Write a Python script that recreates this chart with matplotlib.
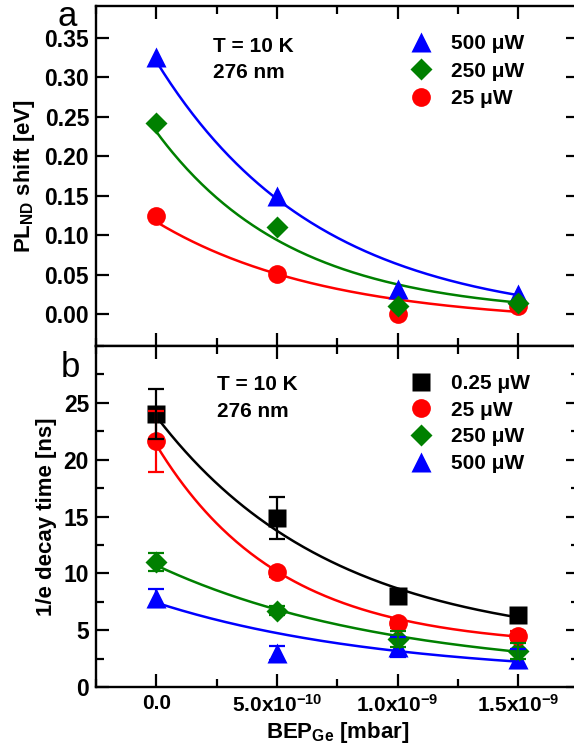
import numpy as np
import matplotlib
matplotlib.use('Agg')
import matplotlib.pyplot as plt
from matplotlib.ticker import MultipleLocator, FixedLocator, FixedFormatter
#
#   Two stacked panels: PL_ND shift (a) and 1/e decay time (b) versus Ge beam pressure.
#   Solid lines are exponential decay fits y0 + A*exp(-x/t).
#
plt.rcParams['font.family'] = ['Liberation Sans', 'DejaVu Sans']
plt.rcParams['font.weight'] = 'bold'
plt.rcParams['mathtext.fontset'] = 'custom'
plt.rcParams['mathtext.rm'] = 'Liberation Sans:bold'
plt.rcParams['mathtext.bf'] = 'Liberation Sans:bold'
plt.rcParams['mathtext.default'] = 'bf'

bep = [0.0, 5e-10, 1e-9, 1.5e-9]                      # BEP_Ge [mbar]
xtick_vals = [0.0, 5e-10, 1e-9, 1.5e-9]
xtick_labels = ['0.0', r'5.0x10$^{-10}$', r'1.0x10$^{-9}$', r'1.5x10$^{-9}$']
ytick_b = [0, 5, 10, 15, 20, 25]

# panel a: PL_ND shift [eV]
shift_500 = [0.325, 0.150, 0.032, 0.026]
shift_250 = [0.242, 0.110, 0.010, 0.015]
shift_25 = [0.124, 0.051, 0.000, 0.011]

# panel b: 1/e decay time [ns] with error bars
tau_025 = [24.0, 14.9, 8.0, 6.3]
err_025 = [2.2, 1.85, 0.3, 0.3]
tau_25 = [21.6, 10.1, 5.6, 4.5]
err_25 = [2.65, 0.4, 0.4, 0.4]
tau_250 = [11.0, 6.7, 4.2, 3.2]
err_250 = [0.8, 0.4, 0.7, 0.7]
tau_500 = [7.8, 3.0, 3.5, 2.5]
err_500 = [0.8, 0.6, 0.9, 0.8]

# fit parameters (y0, A, t[mbar])
fit_a_500 = (-0.011, 0.331, 0.67e-9)
fit_a_250 = (-0.001, 0.232, 0.56e-9)
fit_a_25 = (-0.012, 0.129, 0.70e-9)
fit_b_025 = (3.52, 20.28, 0.73e-9)
fit_b_25 = (3.49, 17.81, 0.51e-9)
fit_b_250 = (1.04, 9.66, 0.97e-9)
fit_b_500 = (0.88, 6.54, 0.95e-9)

blue, green, red, black = '#0000ff', '#008000', '#ff0000', '#000000'

def fitline(p):
    xs = np.linspace(bep[0], bep[-1], 200)
    return xs, p[0] + p[1]*np.exp(-xs/p[2])

fig = plt.figure(figsize=(5.74, 7.5), dpi=100)
W, H = 574.0, 750.0
left, right = 96/W, 578.5/W
axa = fig.add_axes([left, (H-346)/H, right-left, 340/H])
axb = fig.add_axes([left, (H-687)/H, right-left, 341/H])

for ax in (axa, axb):
    ax.set_xlim(-2.5e-10, 1.75e-9)
    ax.xaxis.set_major_locator(FixedLocator(xtick_vals))
    ax.xaxis.set_minor_locator(MultipleLocator(2.5e-10))
    ax.tick_params(which='both', direction='in', top=True, right=True, width=1.6)
    ax.tick_params(which='major', length=9.5, pad=5)
    ax.tick_params(axis='y', which='major', labelsize=16.5)
    ax.tick_params(axis='x', which='major', labelsize=15)
    ax.tick_params(which='minor', length=5.5)
    for s in ax.spines.values():
        s.set_linewidth(1.7)

leg_kw = dict(loc='upper left', frameon=False, fontsize=15, handlelength=1.0,
              handletextpad=0.94, borderpad=0, borderaxespad=0, numpoints=1)

# ---- panel a
for p, c in ((fit_a_25, red), (fit_a_250, green), (fit_a_500, blue)):
    xs, ys = fitline(p)
    axa.plot(xs, ys, color=c, lw=1.8, zorder=2)
h500, = axa.plot(bep, shift_500, '^', color=blue, ms=15, mec='none', zorder=3, label='500 μW')
h25, = axa.plot(bep, shift_25, 'o', color=red, ms=13.5, mec='none', zorder=3, label='25 μW')
h250, = axa.plot(bep, shift_250, 'D', color=green, ms=11.5, mec='none', zorder=4, label='250 μW')
axa.set_ylim(-0.04, 0.39)
axa.yaxis.set_major_locator(MultipleLocator(0.05))
axa.yaxis.set_major_formatter(plt.FormatStrFormatter('%.2f'))
axa.set_xticklabels([])
axa.set_ylabel(r'PL$_{\mathbf{ND}}$ shift [eV]', fontsize=16, fontweight='bold', labelpad=5)
axa.legend(handles=[h500, h250, h25], bbox_to_anchor=(0.6525, 0.917), labelspacing=0.41, **leg_kw)
axa.text(0.2425, 0.8656, 'T = 10 K', transform=axa.transAxes, fontsize=15, fontweight='bold', va='baseline')
axa.text(0.2425, 0.788, '276 nm', transform=axa.transAxes, fontsize=15, fontweight='bold', va='baseline')

# ---- panel b
for p, c in ((fit_b_500, blue), (fit_b_250, green), (fit_b_25, red), (fit_b_025, black)):
    xs, ys = fitline(p)
    axb.plot(xs, ys, color=c, lw=1.8, zorder=2)
series_b = [(tau_500, err_500, '^', blue, 15, '500 μW'),
            (tau_250, err_250, 'D', green, 11.5, '250 μW'),
            (tau_25, err_25, 'o', red, 13.5, '25 μW'),
            (tau_025, err_025, 's', black, 12.5, '0.25 μW')]
handles = {}
for i, (y, e, m, c, ms, lab) in enumerate(series_b):
    handles[lab], = axb.plot(bep, y, m, color=c, ms=ms, mec='none', zorder=3+i, label=lab)
for i, (y, e, m, c, ms, lab) in enumerate(series_b):
    axb.errorbar(bep, y, yerr=e, fmt='none', ecolor=c, elinewidth=1.6, capsize=5.5,
                 capthick=1.6, zorder=8+i)
axb.set_ylim(0, 30)
axb.yaxis.set_major_locator(FixedLocator(ytick_b))
axb.yaxis.set_minor_locator(MultipleLocator(2.5))
axb.xaxis.set_major_formatter(FixedFormatter(xtick_labels))
axb.set_ylabel('1/e decay time [ns]', fontsize=16, fontweight='bold', labelpad=5)
axb.set_xlabel(r'BEP$_{\mathbf{Ge}}$ [mbar]', fontsize=16, fontweight='bold', labelpad=3)
axb.legend(handles=[handles['0.25 μW'], handles['25 μW'], handles['250 μW'], handles['500 μW']],
           bbox_to_anchor=(0.6525, 0.918), labelspacing=0.37, **leg_kw)
axb.text(0.25, 0.871, 'T = 10 K', transform=axb.transAxes, fontsize=15, fontweight='bold', va='baseline')
axb.text(0.25, 0.7927, '276 nm', transform=axb.transAxes, fontsize=15, fontweight='bold', va='baseline')

fig.text(67/W, 1.0, 'a', fontsize=25, fontweight='normal', ha='center', va='top')
fig.text(70/W, 1-377/H, 'b', fontsize=25, fontweight='normal', ha='center', va='baseline')

fig.savefig('out.png', dpi=100)
